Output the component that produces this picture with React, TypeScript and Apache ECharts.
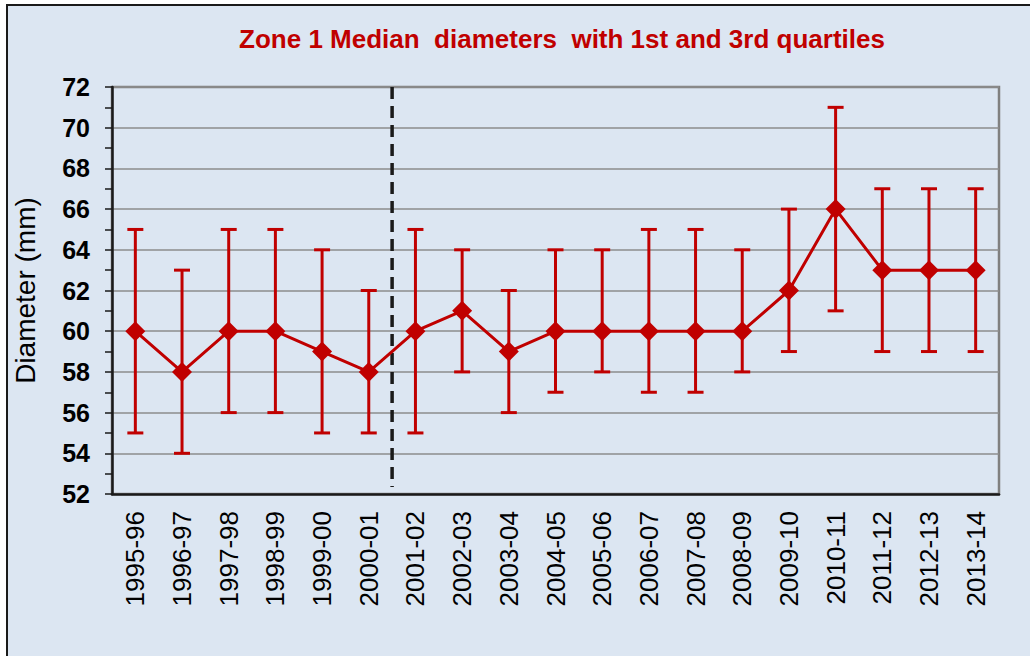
import React, { useEffect, useRef } from "react";
import * as echarts from "echarts";

const TITLE = "Zone 1 Median  diameters  with 1st and 3rd quartiles";
const Y_NAME = "Diameter (mm)";
const CATEGORIES = [
  "1995-96", "1996-97", "1997-98", "1998-99", "1999-00", "2000-01", "2001-02",
  "2002-03", "2003-04", "2004-05", "2005-06", "2006-07", "2007-08", "2008-09",
  "2009-10", "2010-11", "2011-12", "2012-13", "2013-14",
];
const MEDIAN = [60, 58, 60, 60, 59, 58, 60, 61, 59, 60, 60, 60, 60, 60, 62, 66, 63, 63, 63];
const Q1 = [55, 54, 56, 56, 55, 55, 55, 58, 56, 57, 58, 57, 57, 58, 59, 61, 59, 59, 59];
const Q3 = [65, 63, 65, 65, 64, 62, 65, 64, 62, 64, 64, 65, 65, 64, 66, 71, 67, 67, 67];
const DIVIDER_AFTER = "2000-01";
const Y_MIN = 52;
const Y_MAX = 72;
const Y_STEP = 2;

const RED = "#c00000";
const FONT = "'Liberation Sans', Arial, sans-serif";

export default function App() {
  const ref = useRef<HTMLDivElement>(null);

  useEffect(() => {
    if (!ref.current) return;
    const chart = echarts.init(ref.current, null, { renderer: "svg" });
    const dividerIndex = CATEGORIES.indexOf(DIVIDER_AFTER);
    const errData = CATEGORIES.map((c, i) => [i, Q1[i], Q3[i]]);

    chart.setOption({
      animation: false,
      backgroundColor: "#ffffff",
      graphic: [
        {
          type: "rect",
          z: -10,
          silent: true,
          shape: { x: 7, y: 5, width: 1040, height: 670 },
          style: { fill: "#dce6f2", stroke: "#1a1a1a", lineWidth: 2 },
        },
        {
          type: "text",
          x: 562,
          y: 26,
          style: {
            text: TITLE,
            fill: RED,
            font: `bold 26px ${FONT}`,
            textAlign: "center",
            textVerticalAlign: "top",
          },
        },
      ],
      grid: {
        left: 112,
        right: 31,
        top: 87,
        bottom: 162,
        show: true,
        borderColor: "#808080",
        borderWidth: 2.5,
        backgroundColor: "transparent",
      },
      xAxis: {
        type: "category",
        data: CATEGORIES,
        boundaryGap: true,
        axisLine: { show: true, lineStyle: { color: "#1a1a1a", width: 2.5 } },
        axisTick: { show: false },
        axisLabel: {
          rotate: 90,
          fontSize: 26,
          color: "#000",
          fontFamily: FONT,
          margin: 17,
          interval: 0,
        },
        splitLine: { show: false },
      },
      yAxis: {
        type: "value",
        min: Y_MIN,
        max: Y_MAX,
        interval: Y_STEP,
        name: Y_NAME,
        nameLocation: "middle",
        nameGap: 73,
        nameRotate: 90,
        nameTextStyle: { fontSize: 28, color: "#000", fontFamily: FONT },
        axisLine: { show: true, lineStyle: { color: "#1a1a1a", width: 2.5 } },
        axisTick: { show: true, length: 7, lineStyle: { color: "#1a1a1a", width: 1.5 } },
        minorTick: { show: true, splitNumber: 2, length: 7, lineStyle: { color: "#1a1a1a", width: 1.5 } },
        axisLabel: {
          fontSize: 25,
          fontWeight: "bold",
          color: "#000",
          fontFamily: FONT,
          margin: 22,
        },
        splitLine: { show: true, lineStyle: { color: "#8c8c8c", width: 1.5 } },
      },
      series: [
        {
          type: "custom",
          data: errData,
          z: 2,
          renderItem: (params: any, api: any) => {
            const idx = api.value(0);
            const lo = api.coord([idx, api.value(1)]);
            const hi = api.coord([idx, api.value(2)]);
            const cap = 8;
            const style = { stroke: RED, lineWidth: 3 };
            const children: any[] = [
              { type: "line", shape: { x1: lo[0], y1: lo[1], x2: hi[0], y2: hi[1] }, style },
              { type: "line", shape: { x1: lo[0] - cap, y1: lo[1], x2: lo[0] + cap, y2: lo[1] }, style },
              { type: "line", shape: { x1: hi[0] - cap, y1: hi[1], x2: hi[0] + cap, y2: hi[1] }, style },
            ];
            if (idx === dividerIndex) {
              const band = api.size([1, 0])[0];
              const top = api.coord([idx, Y_MAX]);
              const bot = api.coord([idx, Y_MIN]);
              const x = top[0] + band / 2;
              children.push({
                type: "line",
                shape: { x1: x, y1: top[1], x2: x, y2: bot[1] - 7 },
                style: { stroke: "#1a1a1a", lineWidth: 3.5, lineDash: [12, 7] },
              });
            }
            return { type: "group", children };
          },
        },
        {
          type: "line",
          data: MEDIAN,
          z: 3,
          symbol: "diamond",
          symbolSize: 20,
          itemStyle: { color: RED },
          lineStyle: { color: RED, width: 3 },
        },
      ],
    });

    return () => chart.dispose();
  }, []);

  return (
    <div
      ref={ref}
      style={{ position: "fixed", left: 0, top: 0, width: 1030, height: 656 }}
    />
  );
}
